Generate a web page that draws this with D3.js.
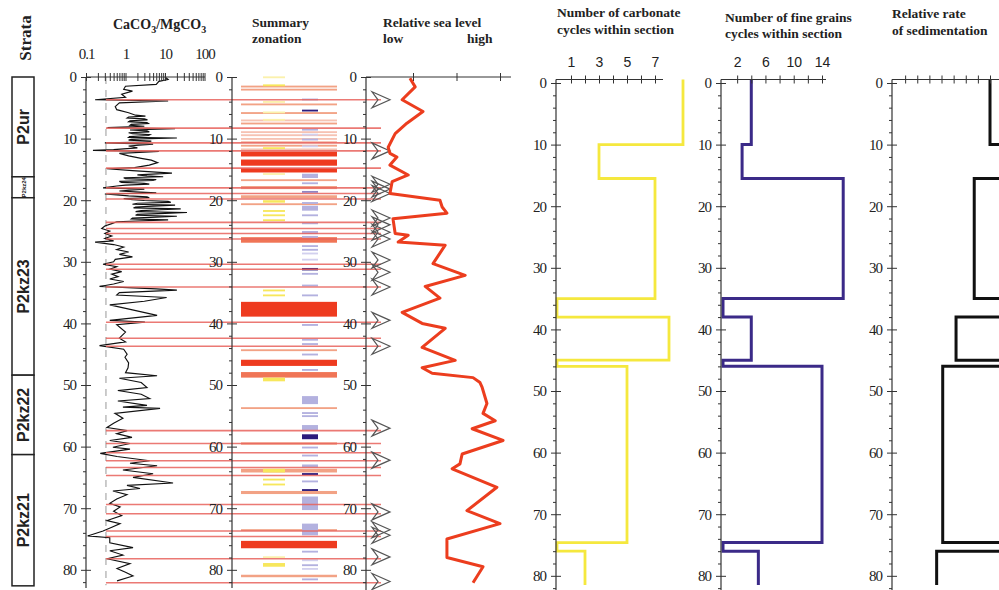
<!DOCTYPE html>
<html>
<head>
<meta charset="utf-8">
<script src="https://cdn.jsdelivr.net/npm/d3@7"></script>
<style>
  body { margin: 0; background: #fff; }
  svg text { font-family: "Liberation Serif", "Times New Roman", serif; fill: #222; }
  .ttl { font-weight: bold; font-size: 13.5px; }
  .num { font-size: 15px; letter-spacing: -1px; }
  .sans { font-family: "Liberation Sans", Arial, sans-serif; font-size: 14px; letter-spacing: 0; }
</style>
</head>
<body>
<svg id="chart" width="999" height="590"></svg>
<script>
// ---- data ----
const strataName = ["P2ur", "P2kz24", "P2kz23", "P2kz22", "P2kz21"];
const strataTop = [0, 16.2, 19.6, 48.4, 61.3];
const strataBase = [16.2, 19.6, 48.4, 61.3, 82.6];

// CaCO3/MgCO3 ratio vs depth (the dense intervals were read again at the end of the lists)
const caDepth = [0, 0.4, 0.7, 1.2, 1.5, 2.0, 2.3, 2.8, 3.3, 3.7, 3.9, 4.2, 4.8, 5.3, 5.8, 6.2, 6.5, 6.8, 7.1, 7.4,
  7.7, 8.0, 8.2, 8.4, 8.6, 8.9, 9.2, 9.5, 9.8, 9.9, 10.1, 10.4, 10.7, 10.9, 11.2, 11.5, 11.8, 11.9, 12.1, 12.4,
  12.8, 13.2, 13.5, 13.9, 14.3, 14.7, 14.9, 15.2, 15.6, 15.9, 16.2, 16.5, 16.8, 17.1, 17.4, 17.7, 18.0, 18.2, 18.5, 18.8,
  19.0, 19.3, 19.6, 19.9, 20.2, 20.5, 20.8, 21.1, 21.4, 21.7, 22.0, 22.3, 22.6, 22.9, 23.2, 23.5, 23.8, 24.2, 24.6, 25.0,
  25.4, 25.8, 26.2, 26.6, 26.8, 27.2, 27.6, 28.0, 28.4, 28.8, 29.2, 29.6, 30.0, 30.4, 30.8, 31.2, 31.6, 32.0, 32.4, 32.8,
  33.2, 33.6, 34.0, 34.4, 34.6, 35.0, 35.4, 35.8, 36.4, 37.0, 37.8, 38.7, 39.5, 39.8, 40.2, 41.4, 42.4, 43.0, 43.6, 44.2,
  45.0, 45.5, 46.4, 47.2, 48.0, 48.5, 48.9, 49.6, 50.4, 50.9, 51.5, 52.2, 52.6, 53.3, 53.6, 53.8, 54.6, 55.4, 56.2, 56.9,
  57.4, 57.9, 58.5, 59.0, 59.5, 60.1, 60.4, 61.1, 61.6, 62.3, 62.7, 63.1, 63.8, 64.4, 65.0, 65.9, 66.3, 66.8, 67.2, 67.8,
  68.5, 69.2, 69.8, 70.5, 71.2, 72.0, 72.5, 73.1, 73.7, 74.5, 74.8, 75.6, 76.4, 76.9, 77.6, 78.2, 79.0, 79.8, 80.4, 81.0, 81.8,
  6.35, 6.65, 6.95, 7.25, 7.55, 7.85, 8.75, 9.05, 9.35, 9.65, 10.25, 10.55,
  16.05, 16.35, 16.65, 16.95, 17.25, 17.55,
  19.45, 19.75, 20.05, 20.35, 20.65, 20.95, 21.25, 21.55, 21.85, 22.15, 22.45, 22.75, 23.05];
const caRatio = [10, 12, 7, 6, 1.0, 0.9, 1.5, 0.8, 1.0, 0.17, 12, 0.7, 0.55, 0.6, 1.2, 1.8, 1.2, 3.0, 1.3, 3.5,
  1.4, 3.0, 0.35, 18, 1.3, 4.0, 1.5, 3.8, 1.2, 20, 1.4, 4.5, 0.3, 5.0, 1.2, 2.0, 0.5, 0.15, 7, 0.7,
  1.2, 2.5, 4.5, 6.5, 4, 1.7, 0.34, 1.5, 15, 2.0, 9, 1.0, 5, 0.8, 4, 0.6, 0.27, 3, 0.7, 6,
  0.3, 1.2, 4, 1.5, 12, 2.0, 18, 1.8, 25, 2.5, 36, 2.0, 20, 1.5, 12, 0.6, 0.45, 0.3, 0.25, 0.4,
  0.3, 0.45, 0.3, 0.5, 0.17, 0.5, 0.9, 0.6, 1.2, 0.7, 1.5, 0.55, 0.5, 0.27, 0.6, 0.4, 0.8, 0.45, 0.65, 0.4,
  0.9, 0.5, 0.22, 6, 20, 0.7, 0.6, 11, 3, 0.4, 1.5, 6.3, 0.4, 3.1, 0.6, 1.0, 0.7, 1.0, 0.22, 0.9,
  1.1, 0.97, 1.2, 1.16, 1.0, 6.3, 0.7, 2.5, 3.5, 0.64, 2.5, 4.1, 0.64, 3.5, 0.86, 7.5, 0.54, 0.86, 0.5, 0.34,
  1.1, 0.6, 1.46, 0.4, 1.3, 0.48, 1.3, 0.23, 0.61, 4.1, 1.3, 6.3, 0.86, 5.0, 1.55, 16, 1.09, 2.33, 0.48, 1.09,
  0.6, 0.4, 0.73, 0.5, 0.8, 0.34, 0.73, 0.45, 0.27, 0.11, 0.4, 0.4, 1.55, 0.4, 0.86, 0.34, 1.3, 0.61, 1.0, 1.55, 0.61,
  3.2, 1.1, 3.6, 1.2, 3.8, 1.3, 3.5, 1.2, 4.2, 1.3, 1.2, 3.5,
  3.5, 0.9, 6, 0.7, 3, 1.0,
  3.5, 0.9, 3.0, 14, 1.5, 5, 1.6, 8, 1.8, 10, 1.8, 6, 1.4];
const caThreshold = 0.32;

// summary zonation bands: top, base, type
const zoneTop = [1.4, 1.9, 4.3, 5.7, 6.9, 7.4, 8.8, 9.3, 9.9, 10.4, 11.0, 11.6, 12.1, 13.4, 14.8, 16.6, 17.7, 19.2, 20.5, 26.0,
  36.5, 44.2, 45.9, 47.9, 53.6, 59.3, 63.6, 67.2, 73.4, 75.3, 80.8,
  -0.1, 1.2, 3.9, 5.6, 6.8, 11.4, 15.6, 20.0, 21.6, 22.3, 23.1, 34.5, 35.3, 48.8, 63.6, 65.2, 66.0, 77.8, 78.9,
  3.5, 5.3, 8.4, 9.2, 10.0, 11.1, 15.7, 17.1, 18.5, 20.3, 20.9, 22.3, 23.6, 25.0, 25.8, 27.3, 27.9, 28.5, 29.5, 31.0,
  31.8, 33.7, 35.3, 40.1, 42.5, 43.2, 44.9, 47.4, 51.8, 54.4, 54.9, 56.5, 58.0, 60.0, 61.3, 62.9, 64.3, 65.5, 66.9, 68.1,
  72.5, 76.9, 78.3, 79.1, 79.7, 81.4];
const zoneBase = [1.7, 2.2, 4.6, 6.0, 7.2, 7.7, 9.1, 9.6, 10.2, 10.7, 11.3, 11.9, 12.9, 14.4, 15.5, 16.9, 18.2, 19.7, 20.8, 26.9,
  38.9, 44.5, 46.9, 48.8, 53.9, 59.7, 64.2, 67.7, 73.7, 76.5, 81.2,
  0.2, 1.5, 4.2, 5.9, 7.1, 11.7, 15.9, 20.4, 21.9, 22.6, 23.4, 34.8, 35.6, 49.4, 64.2, 65.5, 66.3, 78.1, 79.5,
  3.8, 5.6, 8.7, 9.5, 10.3, 11.4, 16.4, 17.4, 18.8, 20.6, 21.7, 22.6, 23.9, 25.5, 26.1, 27.6, 28.2, 28.8, 29.8, 31.4,
  32.1, 34.0, 35.6, 40.4, 42.8, 43.5, 45.2, 47.7, 53.1, 54.7, 55.2, 57.3, 58.8, 60.3, 61.6, 63.4, 64.6, 65.8, 67.2, 70.3,
  74.4, 77.2, 78.6, 79.4, 80.0, 81.7];
const zoneType = ["S", "S", "S", "S", "L", "S", "L", "L", "L", "L", "S", "L", "R", "R", "R", "S", "S", "S", "S", "O",
  "R", "S", "R", "O", "S", "S", "S", "S", "S", "R", "S",
  "y", "Y", "y", "y", "y", "Y", "y", "Y", "Y", "Y", "Y", "Y", "Y", "Y", "Y", "Y", "Y", "y", "Y",
  "P", "D", "P", "p", "P", "p", "P", "P", "M", "P", "P", "P", "P", "P", "P", "P", "P", "p", "p", "D",
  "P", "P", "P", "P", "P", "P", "P", "P", "P", "P", "P", "P", "D", "P", "P", "P", "D", "P", "D", "P",
  "P", "P", "p", "P", "p", "P"];

// marker horizons (red lines) and arrow symbols
const eventDepth = [3.7, 8.3, 10.7, 12.0, 14.8, 18.0, 18.9, 19.8, 23.6, 24.6, 25.4, 26.3, 30.4, 31.2, 34.1,
  39.8, 42.4, 43.7, 57.4, 59.5, 61.0, 62.3, 63.4, 64.7, 69.4, 70.9, 73.7, 74.6, 78.2, 82.1];
const arrowDepth = [3.7, 12.0, 17.4, 18.2, 18.9, 22.9, 24.0, 25.2, 26.3, 29.7, 31.7, 34.1,
  39.5, 43.7, 57.0, 62.2, 70.6, 73.5, 74.4, 77.9, 81.9];

// relative sea level
const seaDepth = [0.2, 1.6, 3.7, 5.6, 7.5, 9.2, 11.4, 12.4, 13.0, 14.3, 15.9, 17.0, 18.9, 20.0, 21.1, 22.1, 23.0, 25.4, 25.7, 26.8,
  27.3, 30.3, 32.2, 34.0, 35.9, 38.2, 40.0, 40.8, 43.9, 46.0, 47.2, 48.1, 48.8, 49.6, 50.4, 53.0, 54.6, 55.8, 57.1, 59.0,
  61.2, 62.8, 63.6, 66.6, 70.4, 72.5, 75.0, 78.0, 79.5, 82.1];
const seaLevel = [0.93, 1.05, 0.75, 1.23, 0.86, 0.59, 0.43, 0.47, 0.63, 0.47, 0.89, 0.52, 0.47, 1.62, 1.67, 1.78, 0.54, 0.59, 0.89, 0.66,
  1.74, 1.46, 2.20, 1.28, 1.62, 0.75, 1.21, 1.74, 1.21, 1.97, 1.21, 1.44, 2.38, 2.54, 2.59, 2.70, 2.61, 2.89, 2.36, 3.07,
  2.13, 2.08, 1.90, 2.93, 2.24, 3.0, 1.78, 1.78, 2.61, 2.38];

// cycle counts and sedimentation rate per interval
const cycleBreaks = [0, 10, 15.5, 35, 38, 45, 46, 74.6, 76, 81.5];
const carbonateCycles = [9, 3, 7, 0, 8, 0, 5, 0, 2];
const fineCycles = [4, 2.7, 17, 0, 4, 0, 14, 0, 5];
const sedRate = [8, 10, 6.7, 10, 5.2, 10, 4.1, 10, 3.6];

// ---- drawing ----
const svg = d3.select("#chart");
const yL = d3.scaleLinear().domain([0, 83]).range([77, 588.3]);
const yR = d3.scaleLinear().domain([0, 83]).range([83, 594.3]);
const topL = 77, topR = 79.5;

const zoneColor = d3.scaleOrdinal()
  .domain(["R", "O", "S", "L", "Y", "y", "P", "p", "M", "D"])
  .range(["#ee3b1f", "#f07556", "#f2a285", "#f6c2b2", "#f7e75c", "#fbf1ac", "#b3b1df", "#d2d0ee", "#8f85c4", "#2c1b7c"]);
const zoneColumn = t => "ROSL".includes(t) ? [241, 337] : "Yy".includes(t) ? [263, 285] : [302, 318];

function depthAxis(y, x, y0, y1) {
  const g = svg.append("g").attr("transform", `translate(${x},0)`);
  g.append("line").attr("y1", y0).attr("y2", y1).attr("stroke", "#333").attr("stroke-width", 1.2);
  const major = g.append("g").call(d3.axisLeft(y).tickValues(d3.range(0, 81, 10)).tickSize(5).tickSizeOuter(0).tickPadding(5));
  major.select(".domain").remove();
  major.selectAll(".tick line").attr("x1", 5).attr("stroke", "#333");
  major.selectAll(".tick text").attr("class", "num").attr("font-family", null).attr("font-size", null);
  const minor = g.append("g").call(d3.axisLeft(y).tickValues(d3.range(2, 83, 2).filter(d => d % 10)).tickSize(3).tickFormat(""));
  minor.select(".domain").remove();
  minor.selectAll(".tick line").attr("stroke", "#333");
  return g;
}

function topAxis(x, yPos, x0, x1, ticks, labels, cls) {
  const g = svg.append("g").attr("transform", `translate(0,${yPos})`);
  g.append("line").attr("x1", x0).attr("x2", x1).attr("stroke", "#333").attr("stroke-width", 1.2);
  const ax = g.append("g").call(d3.axisTop(x).tickValues(ticks).tickSize(4).tickSizeOuter(0)
    .tickPadding(8).tickFormat(d => labels.includes(d) ? d : ""));
  ax.select(".domain").remove();
  ax.selectAll(".tick line").attr("y1", 4).attr("stroke", "#333");
  ax.selectAll(".tick text").attr("class", cls).attr("font-family", null).attr("font-size", null);
  return g;
}

// strata column
svg.append("text").attr("class", "ttl")
  .attr("transform", "translate(31,38) rotate(-90)").attr("text-anchor", "middle").style("font-size", "17px").text("Strata");
const strata = svg.append("g");
strataName.forEach((n, i) => {
  strata.append("rect").attr("x", 12).attr("width", 22)
    .attr("y", yL(strataTop[i])).attr("height", yL(strataBase[i]) - yL(strataTop[i]))
    .attr("fill", "#fff").attr("stroke", "#222").attr("stroke-width", 1.5);
  const cy = (yL(strataTop[i]) + yL(strataBase[i])) / 2;
  strata.append("text").attr("transform", `translate(29,${cy}) rotate(-90)`).attr("text-anchor", "middle")
    .style("font-family", "'Liberation Sans', Arial, sans-serif").style("font-weight", "bold")
    .style("font-size", n === "P2kz24" ? "6px" : "16px")
    .attr("dy", n === "P2kz24" ? -3 : 0).text(n);
});

// zonation bands
svg.append("g").selectAll("rect").data(zoneType).join("rect")
  .attr("x", (t) => zoneColumn(t)[0])
  .attr("width", (t) => zoneColumn(t)[1] - zoneColumn(t)[0])
  .attr("y", (t, i) => yL(zoneTop[i]))
  .attr("height", (t, i) => Math.max(1.5, yL(zoneBase[i]) - yL(zoneTop[i])))
  .attr("fill", t => zoneColor(t));

// CaCO3/MgCO3 panel
const xCa = d3.scaleLog().domain([0.1, 100]).range([86, 204.5]);
svg.append("line").attr("x1", xCa(caThreshold)).attr("x2", xCa(caThreshold))
  .attr("y1", topL).attr("y2", yL(82.5)).attr("stroke", "#999").attr("stroke-dasharray", "7,6");
const caPts = caDepth.map((d, i) => [caRatio[i], d]).sort((a, b) => a[1] - b[1]);
svg.append("path").datum(caPts)
  .attr("d", d3.line().x(p => xCa(p[0])).y(p => yL(p[1])))
  .attr("fill", "none").attr("stroke", "#111").attr("stroke-width", 1.15);

// marker horizons
svg.append("g").selectAll("line").data(eventDepth).join("line")
  .attr("x1", xCa(caThreshold)).attr("x2", 381)
  .attr("y1", d => yL(d)).attr("y2", d => yL(d))
  .attr("stroke", "#e8625c").attr("stroke-opacity", 0.85).attr("stroke-width", 1.6);

depthAxis(yL, 86, topL, 588);
topAxis(xCa, topL, 86, 205, xCa.ticks(), [0.1, 1, 10, 100], "num").selectAll(".tick text").attr("dy", -6);
svg.append("text").attr("class", "ttl").attr("x", 113).attr("y", 29).style("font-size", "14px")
  .call(t => {
    t.append("tspan").text("CaCO");
    t.append("tspan").attr("dy", 4).style("font-size", "10px").text("3");
    t.append("tspan").attr("dy", -4).text("/MgCO");
    t.append("tspan").attr("dy", 4).style("font-size", "10px").text("3");
  });

// summary zonation axis
depthAxis(yL, 232, topL, 588);
svg.append("text").attr("class", "ttl").attr("x", 252).attr("y", 27).text("Summary");
svg.append("text").attr("class", "ttl").attr("x", 252).attr("y", 43).text("zonation");

// relative sea level
const xSea = d3.scaleLinear().domain([0, 3]).range([369.5, 500]);
depthAxis(yL, 366, topL, 590);
topAxis(xSea, topL, 366, 511, [1, 2, 3], [], "num");
svg.append("g").selectAll("path").data(arrowDepth).join("path")
  .attr("transform", d => `translate(372,${yL(d)})`)
  .attr("d", "M0,-8L18,0L0,8L6,0Z")
  .attr("fill", "none").attr("stroke", "#555").attr("stroke-width", 1.2);
svg.append("path").datum(seaDepth.map((d, i) => [seaLevel[i], d]))
  .attr("d", d3.line().x(p => xSea(p[0])).y(p => yL(p[1])))
  .attr("fill", "none").attr("stroke", "#ec3d1e").attr("stroke-width", 3).attr("stroke-linejoin", "round");
svg.append("text").attr("class", "ttl").attr("x", 383).attr("y", 27).text("Relative sea level");
svg.append("text").attr("class", "ttl").attr("x", 383).attr("y", 43).text("low");
svg.append("text").attr("class", "ttl").attr("x", 467).attr("y", 43).text("high");

// step profiles
function stepLine(x, values, color, width) {
  const pts = [];
  values.forEach((v, i) => {
    pts.push([x(v), i === 0 ? topR : yR(cycleBreaks[i])]);
    pts.push([x(v), yR(cycleBreaks[i + 1])]);
  });
  svg.append("path").datum(pts).attr("d", d3.line())
    .attr("fill", "none").attr("stroke", color).attr("stroke-width", width);
}

// carbonate cycles
const xCarb = d3.scaleLinear().domain([0, 7]).range([557, 655]);
stepLine(xCarb, carbonateCycles, "#f5e83e", 2.8);
depthAxis(yR, 556, topR, 590);
topAxis(xCarb, topR, 556, 663, d3.range(1, 8), [1, 3, 5, 7], "sans").selectAll(".tick text").attr("dy", -1);
svg.append("text").attr("class", "ttl").attr("x", 557).attr("y", 17).text("Number of carbonate");
svg.append("text").attr("class", "ttl").attr("x", 557).attr("y", 34).text("cycles within section");

// fine grain cycles
const xFine = d3.scaleLinear().domain([0, 14]).range([723, 822]);
stepLine(xFine, fineCycles, "#3b2a88", 3);
depthAxis(yR, 721, topR, 590);
topAxis(xFine, topR, 721, 826, d3.range(2, 15, 2), [2, 6, 10, 14], "sans").selectAll(".tick text").attr("dy", -1);
svg.append("text").attr("class", "ttl").attr("x", 725).attr("y", 22).text("Number of fine grains");
svg.append("text").attr("class", "ttl").attr("x", 725).attr("y", 38).text("cycles within section");

// sedimentation rate
const xSed = d3.scaleLinear().domain([0, 8]).range([893, 990]);
stepLine(xSed, sedRate, "#111", 3);
depthAxis(yR, 892, topR, 590);
topAxis(xSed, topR, 892, 1000, d3.range(1, 9), [], "num");
svg.append("text").attr("class", "ttl").attr("x", 892).attr("y", 18).text("Relative rate");
svg.append("text").attr("class", "ttl").attr("x", 892).attr("y", 35).text("of sedimentation");
</script>
</body>
</html>
